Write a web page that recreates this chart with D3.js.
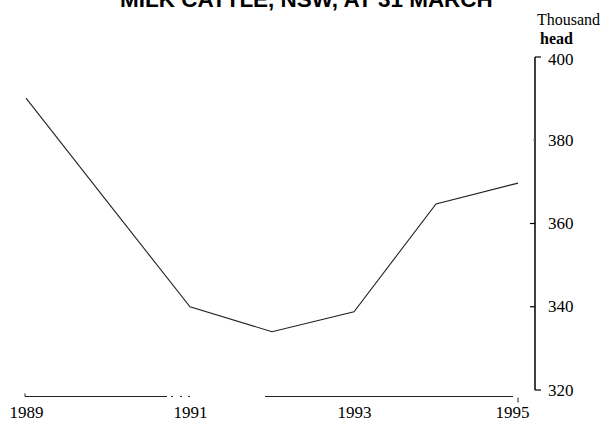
<!DOCTYPE html>
<html>
<head>
<meta charset="utf-8">
<script src="https://cdn.jsdelivr.net/npm/d3@7"></script>
<style>
  html, body { margin: 0; padding: 0; background: #fff; }
  svg { display: block; }
</style>
</head>
<body>
<svg id="chart" width="607" height="424"></svg>
<script>
// ---- data ----
const title = "MILK CATTLE, NSW, AT 31 MARCH";
const unitLines = ["Thousand", "head"];
const years = [1989, 1990, 1991, 1992, 1993, 1994, 1995];
const milkCattle = [390.1, 365.0, 340.0, 334.0, 338.8, 364.7, 369.7];
const xTickYears = [1989, 1991, 1993, 1995];
const yTicks = [320, 340, 360, 380, 400];

// ---- layout ----
const svg = d3.select("#chart");
const x = d3.scaleLinear().domain([1989, 1995]).range([26, 518]);
const y = d3.scaleLinear().domain([320, 400]).range([390, 57]);
const axisX = 535;
const baseY = 396.5;
const serif = "'Liberation Serif', 'Times New Roman', serif";

// title (fit width)
const t = svg.append("text")
  .attr("x", 120).attr("y", 6.5)
  .attr("font-family", "'Liberation Sans', Arial, sans-serif")
  .attr("font-weight", "bold")
  .attr("font-size", 22)
  .attr("fill", "#000")
  .text(title);
const tw = t.node().getComputedTextLength();
t.attr("font-size", 22 * 373 / tw);

// unit label
svg.append("text").attr("x", 537).attr("y", 25)
  .attr("font-family", serif).attr("font-size", 16).attr("fill", "#000")
  .text(unitLines[0]);
svg.append("text").attr("x", 540).attr("y", 44)
  .attr("font-family", serif).attr("font-size", 16).attr("font-weight", "bold").attr("fill", "#000")
  .text(unitLines[1]);

// right y axis
const yAxis = d3.axisLeft(y).tickValues(yTicks).tickSize(0).tickFormat("");
const gy = svg.append("g").attr("transform", `translate(${axisX},0)`).call(yAxis);
gy.select(".domain").remove();
gy.append("line").attr("x1", 0).attr("x2", 0)
  .attr("y1", y(400)).attr("y2", y(320))
  .attr("stroke", "#000").attr("stroke-width", 1.5);
// inner ticks pointing left, end caps pointing right
yTicks.forEach(v => {
  const isEnd = (v === 400 || v === 320);
  gy.append("line")
    .attr("x1", 0).attr("x2", isEnd ? 6 : (v === 380 ? -2 : -5))
    .attr("y1", y(v)).attr("y2", y(v))
    .attr("stroke", v === 380 ? "#777" : "#000").attr("stroke-width", 1.2);
  gy.append("text")
    .attr("x", 13).attr("y", y(v) + (v === 400 ? 2 : 0)).attr("dy", "0.33em")
    .attr("text-anchor", "start")
    .attr("font-family", serif).attr("font-size", 17).attr("fill", "#000")
    .text(v);
});

// bottom x axis (broken baseline as in the print)
const xAxis = d3.axisBottom(x).tickValues(xTickYears).tickSize(0).tickFormat(d3.format("d"));
const gx = svg.append("g").attr("transform", `translate(0,${baseY})`).call(xAxis);
gx.select(".domain")
  .attr("d", `M${x(1989) - 1},0H${x(1995) - 5}`)
  .attr("stroke", "#222").attr("stroke-width", 1.2)
  .attr("stroke-dasharray", "142,4,2,7,2,6,2,75,300");
gx.selectAll(".tick text")
  .attr("y", 16).attr("dy", "0.3em")
  .attr("font-family", serif).attr("font-size", 17).attr("fill", "#000")
  .attr("dx", d => d === 1995 ? -6 : 0);
// small end ticks
gx.append("line").attr("x1", x(1989) - 1).attr("x2", x(1989) - 1).attr("y1", -3).attr("y2", 0)
  .attr("stroke", "#222").attr("stroke-width", 1);
gx.append("line").attr("x1", x(1995)).attr("x2", x(1995)).attr("y1", 1).attr("y2", 6)
  .attr("stroke", "#222").attr("stroke-width", 1);

// series line
const line = d3.line().x((d, i) => x(years[i])).y(d => y(d));
svg.append("path")
  .datum(milkCattle)
  .attr("d", line)
  .attr("fill", "none")
  .attr("stroke", "#222")
  .attr("stroke-width", 1.1);
</script>
</body>
</html>
